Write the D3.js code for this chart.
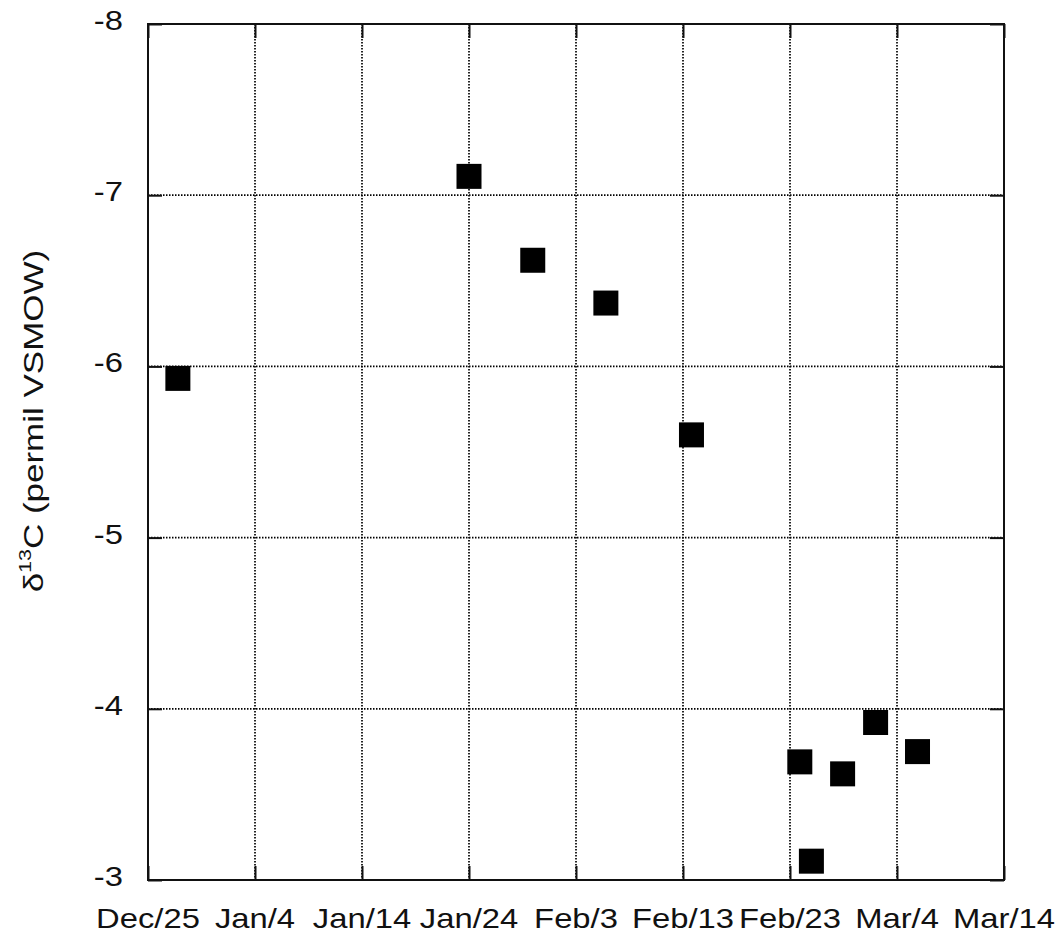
<!DOCTYPE html>
<html>
<head>
<meta charset="utf-8">
<script src="https://cdn.jsdelivr.net/npm/d3@7"></script>
<style>
  html, body { margin: 0; padding: 0; background: #fff; }
  svg { display: block; }
  text { font-family: "Liberation Sans", Arial, Helvetica, sans-serif; fill: #111; }
</style>
</head>
<body>
<svg id="chart" width="1059" height="933"></svg>
<script>
// ---- data ----
const sampleDates = [
  "2007-12-27T19:00", "2008-01-24T00:00", "2008-01-29T23:00", "2008-02-05T19:00",
  "2008-02-13T19:00", "2008-02-23T22:00", "2008-02-25T00:00", "2008-02-27T22:00",
  "2008-03-02T00:00", "2008-03-05T22:00"
];
const d13C = [-5.93, -7.11, -6.62, -6.37, -5.60, -3.69, -3.11, -3.62, -3.92, -3.75];

const xTickDates = ["2007-12-25", "2008-01-04", "2008-01-14", "2008-01-24", "2008-02-03",
                    "2008-02-13", "2008-02-23", "2008-03-04", "2008-03-14"];
const xTickLabels = ["Dec/25", "Jan/4", "Jan/14", "Jan/24", "Feb/3", "Feb/13", "Feb/23", "Mar/4", "Mar/14"];
const yTicks = [-8, -7, -6, -5, -4, -3];
const yTickLabels = ["-8", "-7", "-6", "-5", "-4", "-3"];
const yDomain = [-8, -3];

(function () {
// ---- layout ----
const W = 1059, H = 933;
const pL = 148, pR = 1004, pT = 24, pB = 880;
const fontSize = 28, stretch = 1.17, tickLen = 14, markerSize = 25;

const parseT = d3.utcParse("%Y-%m-%dT%H:%M");
const parseD = d3.utcParse("%Y-%m-%d");
const xTicks = xTickDates.map(parseD);

const x = d3.scaleUtc().domain([xTicks[0], xTicks[xTicks.length - 1]]).range([pL, pR]);
const y = d3.scaleLinear().domain(yDomain).range([pT, pB]);

const svg = d3.select("#chart");
svg.append("rect").attr("width", W).attr("height", H).attr("fill", "#fff");

// grid lines (dotted)
const grid = svg.append("g").attr("stroke", "#000").attr("stroke-width", 1.7)
  .attr("stroke-dasharray", "1.5,1.5").attr("fill", "none");
grid.selectAll("line.gx").data(xTicks.slice(1, -1)).join("line")
  .attr("class", "gx")
  .attr("x1", d => x(d)).attr("x2", d => x(d)).attr("y1", pT).attr("y2", pB);
grid.selectAll("line.gy").data(yTicks.slice(1, -1)).join("line")
  .attr("class", "gy")
  .attr("x1", pL).attr("x2", pR).attr("y1", d => y(d)).attr("y2", d => y(d));

// axes with inward ticks, mirrored
const axisStyle = g => {
  g.select(".domain").remove();
  g.selectAll(".tick line").attr("stroke", "#111").attr("stroke-width", 2);
  g.selectAll(".tick text").remove();
};
svg.append("g").attr("transform", `translate(0,${pB})`)
  .call(d3.axisBottom(x).tickValues(xTicks).tickSizeInner(-tickLen).tickSizeOuter(0)).call(axisStyle);
svg.append("g").attr("transform", `translate(0,${pT})`)
  .call(d3.axisTop(x).tickValues(xTicks).tickSizeInner(-tickLen).tickSizeOuter(0)).call(axisStyle);
svg.append("g").attr("transform", `translate(${pL},0)`)
  .call(d3.axisLeft(y).tickValues(yTicks).tickSizeInner(-tickLen).tickSizeOuter(0)).call(axisStyle);
svg.append("g").attr("transform", `translate(${pR},0)`)
  .call(d3.axisRight(y).tickValues(yTicks).tickSizeInner(-tickLen).tickSizeOuter(0)).call(axisStyle);

// border
svg.append("rect").attr("x", pL).attr("y", pT)
  .attr("width", pR - pL).attr("height", pB - pT)
  .attr("fill", "none").attr("stroke", "#111").attr("stroke-width", 2);

// x tick labels
svg.append("g").selectAll("text").data(xTicks).join("text")
  .attr("transform", d => `translate(${x(d)},${pB + 48}) scale(${stretch},1)`)
  .attr("text-anchor", "middle").attr("font-size", fontSize)
  .text((d, i) => xTickLabels[i]);

// y tick labels
svg.append("g").selectAll("text").data(yTicks).join("text")
  .attr("transform", d => `translate(${pL - 25},${y(d) + 6}) scale(${stretch},1)`)
  .attr("text-anchor", "end").attr("font-size", fontSize)
  .text((d, i) => yTickLabels[i]);

// y axis title
const yt = svg.append("text")
  .attr("transform", `translate(43,421) rotate(-90) scale(1.25,1)`)
  .attr("text-anchor", "middle").attr("font-size", fontSize);
yt.append("tspan").text("\u03B4");
yt.append("tspan").attr("font-size", 17).attr("dy", -12).text("13");
yt.append("tspan").attr("dy", 12).text("C (permil VSMOW)");

// points
const pts = sampleDates.map((d, i) => ({ t: parseT(d), v: d13C[i] }));
svg.append("g").selectAll("rect").data(pts).join("rect")
  .attr("x", d => x(d.t) - markerSize / 2)
  .attr("y", d => y(d.v) - markerSize / 2)
  .attr("width", markerSize).attr("height", markerSize)
  .attr("fill", "#000");
})();
</script>
</body>
</html>
